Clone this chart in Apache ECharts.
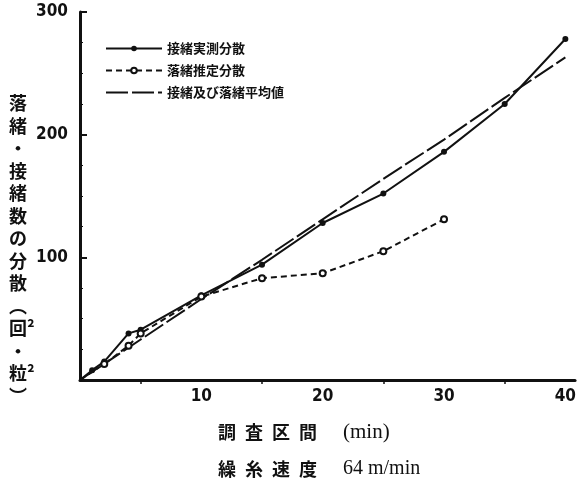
<!DOCTYPE html>
<html><head><meta charset="utf-8">
<script src="https://cdn.jsdelivr.net/npm/echarts@6/dist/echarts.min.js"></script>
<style>html,body{margin:0;padding:0;background:#fff}#c{width:579px;height:491px}</style>
</head><body><div id="c"></div>
<script>
// Data
const measuredX = [0, 1, 2, 4, 5, 10, 15, 20, 25, 30, 35, 40];
const measuredY = [0, 8, 15, 38, 41, 69, 94, 128, 152, 186, 225, 278];
const estimatedX = [0, 2, 4, 5, 10, 15, 20, 25, 30];
const estimatedY = [0, 13, 28, 38, 68, 83, 87, 105, 131];
const meanX = [0, 5, 10, 15, 20, 25, 30, 35, 40];
const meanY = [0, 33, 66, 98, 131, 164, 196, 230, 263];
const seriesNames = ['接緒実測分散', '落緒推定分散', '接緒及び落緒平均値'];
const yTicks = [100, 200, 300];
const xTicks = [10, 20, 30, 40];
const yNameChars = ['落','緒','・','接','緒','数','の','分','散','︵','回²','・','粒²','︶'];
const xName1 = ['調', '査', '区', '間'];
const xUnit1 = '(min)';
const xName2 = ['繰', '糸', '速', '度'];
const xUnit2 = '64 m/min';

// origin point is drawn without a marker, as in the reference
const pair = (xs, ys) => xs.map((x, i) => (x === 0 ? { value: [x, ys[i]], symbol: 'none' } : [x, ys[i]]));
const ink = '#111';
const cjkFont = 'bold 18px "Noto Sans CJK JP"';
const graphics = [
  {
    type: 'text', left: 9, top: 92,
    style: { text: yNameChars.join('\n'), lineHeight: 22.5, font: cjkFont, fill: ink, align: 'left' }
  }
];
xName1.forEach((ch, i) => graphics.push({ type: 'text', left: 218 + i * 27, top: 423, style: { text: ch, font: cjkFont, fill: ink } }));
graphics.push({ type: 'text', left: 343, top: 422, style: { text: xUnit1, font: '21px "Liberation Serif"', fill: ink } });
xName2.forEach((ch, i) => graphics.push({ type: 'text', left: 218 + i * 27, top: 460, style: { text: ch, font: cjkFont, fill: ink } }));
graphics.push({ type: 'text', left: 343, top: 459, style: { text: xUnit2, font: '20px "Liberation Serif"', fill: ink } });

const chart = echarts.init(document.getElementById('c'));
chart.setOption({
  backgroundColor: '#fff',
  animation: false,
  grid: { left: 80, right: 0, top: 12, bottom: 111 },
  legend: {
    orient: 'vertical', left: 100, top: 37, itemGap: 9,
    itemWidth: 56, itemHeight: 7,
    textStyle: { fontFamily: 'Noto Sans CJK JP', fontWeight: 'bold', fontSize: 13, color: ink },
    data: [
      { name: seriesNames[0] },
      { name: seriesNames[1] },
      { name: seriesNames[2], itemStyle: { opacity: 0 } }
    ]
  },
  xAxis: {
    type: 'value', min: 0, max: 40.8, interval: 10,
    axisLine: { lineStyle: { color: ink, width: 3 } },
    axisTick: { show: false },
    minorTick: { show: true, splitNumber: 2, length: 4, lineStyle: { color: ink, width: 1.5 } },
    splitLine: { show: false },
    axisLabel: {
      showMaxLabel: false, margin: 8,
      formatter: v => (xTicks.includes(v) ? String(v) : ''),
      fontFamily: 'DejaVu Sans Condensed', fontWeight: 'bold', fontSize: 17, color: ink
    }
  },
  yAxis: {
    type: 'value', min: 0, max: 300, interval: 100,
    axisLine: { lineStyle: { color: ink, width: 3 } },
    axisTick: { show: true, inside: true, length: 7, lineStyle: { color: ink, width: 2 } },
    minorTick: { show: true, splitNumber: 4, length: 3, lineStyle: { color: ink, width: 1 } },
    splitLine: { show: false },
    axisLabel: {
      margin: 12,
      formatter: v => (yTicks.includes(v) ? String(v) : ''),
      fontFamily: 'DejaVu Sans Condensed', fontWeight: 'bold', fontSize: 17, color: ink
    }
  },
  series: [
    {
      name: seriesNames[0], type: 'line', data: pair(measuredX, measuredY),
      symbol: 'circle', symbolSize: 6, showSymbol: true,
      lineStyle: { color: ink, width: 2 }, itemStyle: { color: ink }
    },
    {
      name: seriesNames[1], type: 'line', data: pair(estimatedX, estimatedY),
      symbol: 'emptyCircle', symbolSize: 6, showSymbol: true,
      lineStyle: { color: ink, width: 2, type: [6, 4] },
      itemStyle: { color: ink, borderColor: ink, borderWidth: 1.3 }
    },
    {
      name: seriesNames[2], type: 'line', data: pair(meanX, meanY),
      symbol: 'none',
      lineStyle: { color: ink, width: 2, type: [22, 4] }, itemStyle: { color: ink }
    }
  ],
  graphic: graphics
});
</script></body></html>
